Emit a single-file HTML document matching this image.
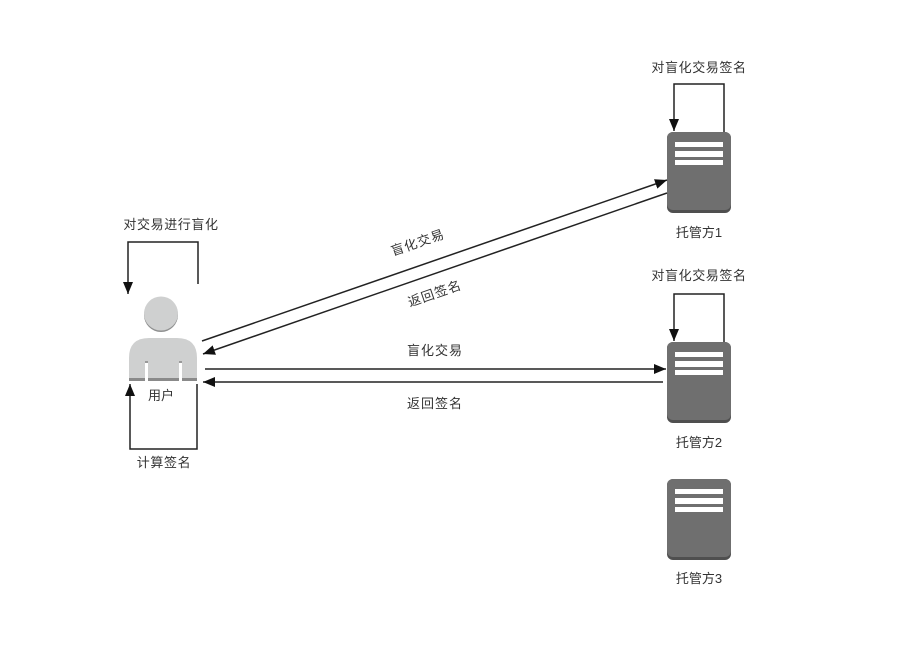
<!DOCTYPE html>
<html>
<head>
<meta charset="utf-8">
<style>
  html,body{margin:0;padding:0;background:#fff;}
  svg{display:block;}
  text{font-family:"Liberation Sans","Noto Sans CJK SC",sans-serif;font-size:13px;fill:#333;}
</style>
</head>
<body>
<svg width="900" height="657" viewBox="0 0 900 657" xmlns="http://www.w3.org/2000/svg">
  <defs>
    <marker id="ah" markerUnits="userSpaceOnUse" markerWidth="12" markerHeight="10" refX="12" refY="5" orient="auto">
      <path d="M0,0 L12,5 L0,10 z" fill="#111"/>
    </marker>
    <g id="server">
      <rect x="0" y="0" width="64" height="81" rx="6" ry="6" fill="#4f4f4f"/>
      <rect x="0" y="0" width="64" height="78" rx="6" ry="6" fill="#6f6f6f"/>
      <rect x="8" y="10" width="48" height="5" fill="#fff"/>
      <rect x="8" y="19" width="48" height="6" fill="#fff"/>
      <rect x="8" y="28" width="48" height="5" fill="#fff"/>
    </g>
  </defs>

  <!-- Person -->
  <circle cx="161" cy="315" r="17" fill="#8f9090"/>
  <circle cx="161" cy="313.5" r="17" fill="#cfd0d0"/>
  <path d="M129,381 L129,358 Q129,338 149,338 L177,338 Q197,338 197,358 L197,381 Z" fill="#cfd0d0"/>
  <rect x="129" y="378" width="68" height="3" fill="#8a8a8a"/>
  <rect x="145" y="362" width="3" height="19" fill="#fff"/>
  <rect x="179" y="362" width="3" height="19" fill="#fff"/>
  <rect x="145" y="361" width="3" height="2" fill="#999"/>
  <rect x="179" y="361" width="3" height="2" fill="#999"/>
  <text x="161" y="400" text-anchor="middle">用户</text>

  <!-- Top loop for user -->
  <polyline points="198,284 198,242 128,242 128,294" fill="none" stroke="#222" stroke-width="1.5" marker-end="url(#ah)"/>
  <text x="171" y="229" text-anchor="middle" letter-spacing="0.6">对交易进行盲化</text>

  <!-- Bottom loop for user -->
  <polyline points="197,384 197,449 130,449 130,384" fill="none" stroke="#222" stroke-width="1.5" marker-end="url(#ah)"/>
  <text x="164" y="467" text-anchor="middle" letter-spacing="0.6">计算签名</text>

  <!-- Servers -->
  <use href="#server" x="667" y="132"/>
  <use href="#server" x="667" y="342"/>
  <use href="#server" x="667" y="479"/>
  <text x="699" y="237" text-anchor="middle">托管方1</text>
  <text x="699" y="447" text-anchor="middle">托管方2</text>
  <text x="699" y="583" text-anchor="middle">托管方3</text>

  <!-- Server loops -->
  <polyline points="724,132 724,84 674,84 674,131" fill="none" stroke="#222" stroke-width="1.5" marker-end="url(#ah)"/>
  <text x="699" y="72" text-anchor="middle" letter-spacing="0.6">对盲化交易签名</text>
  <polyline points="724,342 724,294 674,294 674,341" fill="none" stroke="#222" stroke-width="1.5" marker-end="url(#ah)"/>
  <text x="699" y="280" text-anchor="middle" letter-spacing="0.6">对盲化交易签名</text>

  <!-- Diagonal arrows -->
  <line x1="202" y1="341" x2="667" y2="180" stroke="#222" stroke-width="1.5" marker-end="url(#ah)"/>
  <line x1="667" y1="193" x2="203" y2="354" stroke="#222" stroke-width="1.5" marker-end="url(#ah)"/>
  <text x="418" y="247" text-anchor="middle" letter-spacing="1" transform="rotate(-19 418 243)">盲化交易</text>
  <text x="435" y="298" text-anchor="middle" letter-spacing="1" transform="rotate(-19 435 294)">返回签名</text>

  <!-- Horizontal arrows -->
  <line x1="205" y1="369" x2="666" y2="369" stroke="#222" stroke-width="1.5" marker-end="url(#ah)"/>
  <line x1="663" y1="382" x2="203" y2="382" stroke="#222" stroke-width="1.5" marker-end="url(#ah)"/>
  <text x="435" y="355" text-anchor="middle" letter-spacing="1">盲化交易</text>
  <text x="435" y="408" text-anchor="middle" letter-spacing="1">返回签名</text>
</svg>
</body>
</html>
